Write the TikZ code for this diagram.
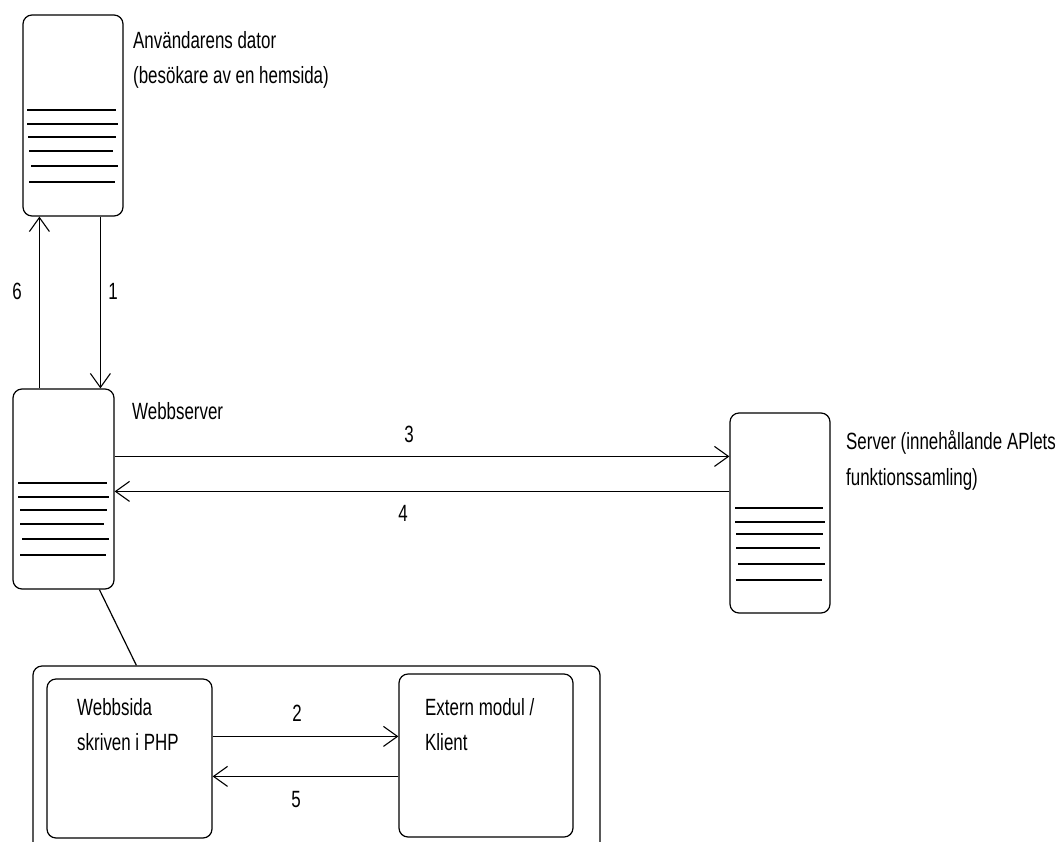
\documentclass[tikz,border=0pt]{standalone}
\usepackage{fontspec}
\setmainfont{Liberation Sans}[FakeStretch=0.72]
\usetikzlibrary{arrows.meta,calc}
\begin{document}
\begin{tikzpicture}[x=1pt,y=-1pt,
  box/.style={draw,line width=1.2pt,rounded corners=9pt,inner sep=0pt},
  arr/.style={line width=1.2pt,-{Straight Barb[length=14pt,width=20pt,line width=1.1pt]}},
  conn/.style={line width=1.2pt},
  rule/.style={line width=1.3pt},
  lbl/.style={anchor=base west,inner sep=0pt,font=\fontsize{23.5}{28}\selectfont},
  num/.style={anchor=base,inner sep=0pt,font=\fontsize{23.5}{28}\selectfont}]
\useasboundingbox (0,0) rectangle (1060,841);
\fill[white] (0,0) rectangle (1060,841);
\clip (0,0) rectangle (1060,841);

% boxes
\node[box,minimum width=100pt,minimum height=201pt] (user) at (73,115.5) {};
\node[box,minimum width=101pt,minimum height=200pt] (ws) at (63.5,489) {};
\node[box,minimum width=100pt,minimum height=200pt] (srv) at (780,513) {};
\node[box,minimum width=567pt,minimum height=234pt] (outer) at (316.5,783) {};
\node[box,minimum width=165pt,minimum height=159pt] (php) at (129.5,758.5) {};
\node[box,minimum width=174pt,minimum height=163pt] (ext) at (486,755.5) {};

% ruled lines
\foreach \y/\a/\b in {110/27/116,124/27/118,137/28/116,151/29/113,166/31/118,182/29/115}
  \draw[rule] (\a,\y) -- (\b,\y);
\foreach \y/\a/\b in {483/18/107,497/18/109,510/20/107,524/20/104,539/22/109,555/20/106}
  \draw[rule] (\a,\y) -- (\b,\y);
\foreach \y/\a/\b in {508/735/823,522/735/825,534/736/823,548/736/820,564/738/825,580/736/822}
  \draw[rule] (\a,\y) -- (\b,\y);

% texts
\node[lbl] (userA) at (133,48) {Användarens dator};
\node[lbl] (userB) at (133,83) {(besökare av en hemsida)};
\node[lbl] (wsA) at (132,419) {Webbserver};
\node[lbl] (srvA) at (846,449) {Server (innehållande APlets};
\node[lbl] (srvB) at (846,485) {funktionssamling)};
\node[lbl] (phpA) at (77,715) {Webbsida};
\node[lbl] (phpB) at (77,750) {skriven i PHP};
\node[lbl] (extA) at (425,715) {Extern modul /};
\node[lbl] (extB) at (425,750) {Klient};

% numbers
\node[num] (n6) at (17,299) {6};
\node[num] (n1) at (113,299) {1};
\node[num] (n3) at (409,442) {3};
\node[num] (n4) at (403,521) {4};
\node[num] (n2) at (297,721) {2};
\node[num] (n5) at (296,807) {5};

% connectors
\draw[arr] ($(ws.north west)+(27,0)$) -- ($(user.south west)+(17,0)$);
\draw[arr] ($(user.south west)+(78,0)$) -- ($(ws.north west)+(88,0)$);
\draw[arr] ($(ws.north east)+(0,68)$) -- ($(srv.north west)+(0,44)$);
\draw[arr] ($(srv.north west)+(0,79)$) -- ($(ws.north east)+(0,103)$);
\draw[arr] ($(php.north east)+(0,58)$) -- ($(ext.north west)+(0,63)$);
\draw[arr] ($(ext.north west)+(0,103)$) -- ($(php.north east)+(0,98)$);
\draw[conn] ($(ws.south west)+(87,0)$) -- ($(outer.north west)+(104,0)$);
\end{tikzpicture}
\end{document}
